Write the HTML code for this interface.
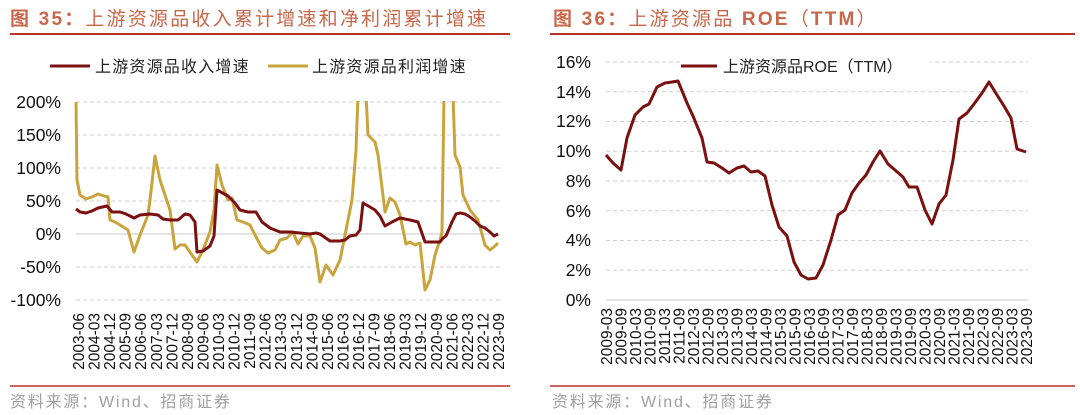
<!DOCTYPE html>
<html><head><meta charset="utf-8"><style>
body{margin:0;background:#fff;}
svg{display:block;font-family:"Liberation Sans","Noto Sans CJK SC",sans-serif;}
</style></head><body>
<svg width="1080" height="415" viewBox="0 0 1080 415">
<defs><clipPath id="c1"><rect x="60" y="101" width="450" height="210"/></clipPath></defs>
<!-- titles -->
<text x="10" y="25" font-size="19" fill="#c8674a" font-weight="bold" letter-spacing="2.2">图 35：<tspan font-weight="normal">上游资源品收入累计增速和净利润累计增速</tspan></text>
<line x1="10" y1="34" x2="510" y2="34" stroke="#b8302c" stroke-width="2"/>
<text x="553" y="25" font-size="19" fill="#c8674a" font-weight="bold" letter-spacing="2.2">图 36：<tspan font-weight="normal">上游资源品 </tspan>ROE<tspan font-weight="normal">（</tspan>TTM<tspan font-weight="normal">）</tspan></text>
<line x1="550" y1="34" x2="1075" y2="34" stroke="#b8302c" stroke-width="2"/>
<line x1="10" y1="386" x2="510" y2="386" stroke="#b8302c" stroke-width="1.5"/>
<line x1="550" y1="386" x2="1075" y2="386" stroke="#b8302c" stroke-width="1.5"/>
<text x="10" y="407" font-size="16" fill="#a0a0a0" letter-spacing="1.8">资料来源：Wind、招商证券</text>
<text x="552" y="407" font-size="16" fill="#a0a0a0" letter-spacing="1.8">资料来源：Wind、招商证券</text>

<!-- LEFT CHART -->
<line x1="50" y1="66" x2="90" y2="66" stroke="#7b1010" stroke-width="3"/>
<text x="95" y="72" font-size="16" fill="#222" letter-spacing="1.2">上游资源品收入增速</text>
<line x1="268" y1="66" x2="308" y2="66" stroke="#c9a43c" stroke-width="3"/>
<text x="312" y="72" font-size="16" fill="#222" letter-spacing="1.2">上游资源品利润增速</text>
<g stroke="#d0d0d0" stroke-width="1" stroke-dasharray="4,3">
<line x1="76" y1="102" x2="500" y2="102"/><line x1="76" y1="135" x2="500" y2="135"/>
<line x1="76" y1="168" x2="500" y2="168"/><line x1="76" y1="201" x2="500" y2="201"/>
<line x1="76" y1="267" x2="500" y2="267"/><line x1="76" y1="300" x2="500" y2="300"/>
</g>
<line x1="76" y1="234" x2="500" y2="234" stroke="#c8c8c8" stroke-width="1"/>
<g font-size="17.5" fill="#111" text-anchor="end">
<text x="61" y="108">200%</text><text x="61" y="141">150%</text><text x="61" y="174">100%</text>
<text x="61" y="207">50%</text><text x="61" y="240">0%</text><text x="61" y="273">-50%</text><text x="61" y="306">-100%</text>
</g>
<g clip-path="url(#c1)" fill="none" stroke-width="3" stroke-linejoin="round">
<polyline stroke="#c9a43c" points="76,102 77,180 80,195 86,199 92,197 98,194 104,196 108,197 110,220 115,222 120,225 128,230 134,252 140,235 148,215 150,200 155,156 160,180 165,195 170,210 175,249 180,245 185,245 192,255 197,262 203,250 210,232 214,210 217,165 222,185 228,200 232,198 237,220 243,222 250,225 255,235 262,248 268,253 275,250 280,240 287,238 293,232 298,244 303,236 310,236 315,248 320,282 326,265 333,275 340,260 346,230 352,200 356,150 358,95 366,95 368,135 375,142 378,155 385,212 390,198 395,202 400,215 406,244 410,242 415,245 420,243 425,290 430,280 435,255 440,240 442,232 444,95 453,95 455,155 460,167 463,195 470,210 478,220 485,245 490,250 495,246 498,243"/>
<polyline stroke="#7b1010" points="76,209 80,212 86,213 92,211 98,208 107,206 112,212 120,212 126,214 134,218 140,215 150,214 158,215 163,219 170,220 178,220 185,214 190,215 195,222 197,252 203,251 210,246 214,236 217,190 228,196 235,203 240,210 248,212 256,212 262,222 270,228 280,232 290,232 300,233 310,234 316,233 320,234 330,241 340,241 345,240 350,236 356,235 360,230 363,203 370,207 375,210 380,216 385,226 392,222 400,218 410,220 418,222 425,242 440,242 443,238 446,236 452,222 456,214 460,213 465,214 470,217 475,221 480,226 485,228 490,232 494,236 498,234"/>
</g>
<g font-size="15.5" fill="#111" text-anchor="end">
<text transform="translate(84,313) rotate(-90)">2003-06</text>
<text transform="translate(99.6,313) rotate(-90)">2004-03</text>
<text transform="translate(115.1,313) rotate(-90)">2004-12</text>
<text transform="translate(130.7,313) rotate(-90)">2005-09</text>
<text transform="translate(146.2,313) rotate(-90)">2006-06</text>
<text transform="translate(161.8,313) rotate(-90)">2007-03</text>
<text transform="translate(177.3,313) rotate(-90)">2007-12</text>
<text transform="translate(192.9,313) rotate(-90)">2008-09</text>
<text transform="translate(208.4,313) rotate(-90)">2009-06</text>
<text transform="translate(224,313) rotate(-90)">2010-03</text>
<text transform="translate(239.6,313) rotate(-90)">2010-12</text>
<text transform="translate(255.1,313) rotate(-90)">2011-09</text>
<text transform="translate(270.7,313) rotate(-90)">2012-06</text>
<text transform="translate(286.2,313) rotate(-90)">2013-03</text>
<text transform="translate(301.8,313) rotate(-90)">2013-12</text>
<text transform="translate(317.3,313) rotate(-90)">2014-09</text>
<text transform="translate(332.9,313) rotate(-90)">2015-06</text>
<text transform="translate(348.4,313) rotate(-90)">2016-03</text>
<text transform="translate(364,313) rotate(-90)">2016-12</text>
<text transform="translate(379.6,313) rotate(-90)">2017-09</text>
<text transform="translate(395.1,313) rotate(-90)">2018-06</text>
<text transform="translate(410.7,313) rotate(-90)">2019-03</text>
<text transform="translate(426.2,313) rotate(-90)">2019-12</text>
<text transform="translate(441.8,313) rotate(-90)">2020-09</text>
<text transform="translate(457.3,313) rotate(-90)">2021-06</text>
<text transform="translate(472.9,313) rotate(-90)">2022-03</text>
<text transform="translate(488.4,313) rotate(-90)">2022-12</text>
<text transform="translate(504,313) rotate(-90)">2023-09</text>
</g>

<!-- RIGHT CHART -->
<g stroke="#d0d0d0" stroke-width="1" stroke-dasharray="4,3">
<line x1="606" y1="62" x2="1028" y2="62"/><line x1="606" y1="91.75" x2="1028" y2="91.75"/>
<line x1="606" y1="121.5" x2="1028" y2="121.5"/><line x1="606" y1="151.25" x2="1028" y2="151.25"/>
<line x1="606" y1="181" x2="1028" y2="181"/><line x1="606" y1="210.75" x2="1028" y2="210.75"/>
<line x1="606" y1="240.5" x2="1028" y2="240.5"/><line x1="606" y1="270.25" x2="1028" y2="270.25"/>
</g>
<line x1="606" y1="300" x2="1028" y2="300" stroke="#c8c8c8" stroke-width="1"/>
<g font-size="17.5" fill="#111" text-anchor="end">
<text x="591" y="68">16%</text><text x="591" y="98">14%</text><text x="591" y="127">12%</text>
<text x="591" y="157">10%</text><text x="591" y="187">8%</text><text x="591" y="217">6%</text>
<text x="591" y="246">4%</text><text x="591" y="276">2%</text><text x="591" y="306">0%</text>
</g>
<rect x="680" y="52" width="250" height="22" fill="#fff"/>
<line x1="681" y1="66" x2="717" y2="66" stroke="#7b1010" stroke-width="3"/>
<text x="723" y="72" font-size="16" fill="#222">上游资源品ROE（TTM）</text>
<polyline fill="none" stroke="#7b1010" stroke-width="3" stroke-linejoin="round" points="606,155 613,163 621,170 627,138 635,115 643,107 649,104 657,87 665,83 672,82 678,81 687,103 693,116 702,138 707,162 714,163 722,168 729,173 737,168 744,166 751,172 758,171 765,176 772,205 779,227 787,236 794,262 801,275 808,279 816,278 823,265 831,240 838,215 845,210 852,193 859,183 866,175 873,162 880,151 888,164 895,170 903,177 909,187 917,187 925,210 932,224 939,204 946,195 953,160 959,119 967,113 974,104 982,93 989,82 997,95 1004,106 1011,118 1017,149 1026,152"/>
<g font-size="15.5" fill="#111" text-anchor="end">
<text transform="translate(612,308) rotate(-90)">2009-03</text>
<text transform="translate(626.5,308) rotate(-90)">2009-09</text>
<text transform="translate(641,308) rotate(-90)">2010-03</text>
<text transform="translate(655.4,308) rotate(-90)">2010-09</text>
<text transform="translate(669.9,308) rotate(-90)">2011-03</text>
<text transform="translate(684.4,308) rotate(-90)">2011-09</text>
<text transform="translate(698.9,308) rotate(-90)">2012-03</text>
<text transform="translate(713.4,308) rotate(-90)">2012-09</text>
<text transform="translate(727.9,308) rotate(-90)">2013-03</text>
<text transform="translate(742.3,308) rotate(-90)">2013-09</text>
<text transform="translate(756.8,308) rotate(-90)">2014-03</text>
<text transform="translate(771.3,308) rotate(-90)">2014-09</text>
<text transform="translate(785.8,308) rotate(-90)">2015-03</text>
<text transform="translate(800.3,308) rotate(-90)">2015-09</text>
<text transform="translate(814.8,308) rotate(-90)">2016-03</text>
<text transform="translate(829.2,308) rotate(-90)">2016-09</text>
<text transform="translate(843.7,308) rotate(-90)">2017-03</text>
<text transform="translate(858.2,308) rotate(-90)">2017-09</text>
<text transform="translate(872.7,308) rotate(-90)">2018-03</text>
<text transform="translate(887.2,308) rotate(-90)">2018-09</text>
<text transform="translate(901.7,308) rotate(-90)">2019-03</text>
<text transform="translate(916.1,308) rotate(-90)">2019-09</text>
<text transform="translate(930.6,308) rotate(-90)">2020-03</text>
<text transform="translate(945.1,308) rotate(-90)">2020-09</text>
<text transform="translate(959.6,308) rotate(-90)">2021-03</text>
<text transform="translate(974.1,308) rotate(-90)">2021-09</text>
<text transform="translate(988.6,308) rotate(-90)">2022-03</text>
<text transform="translate(1003,308) rotate(-90)">2022-09</text>
<text transform="translate(1017.5,308) rotate(-90)">2023-03</text>
<text transform="translate(1032,308) rotate(-90)">2023-09</text>
</g>
</svg>
</body></html>
